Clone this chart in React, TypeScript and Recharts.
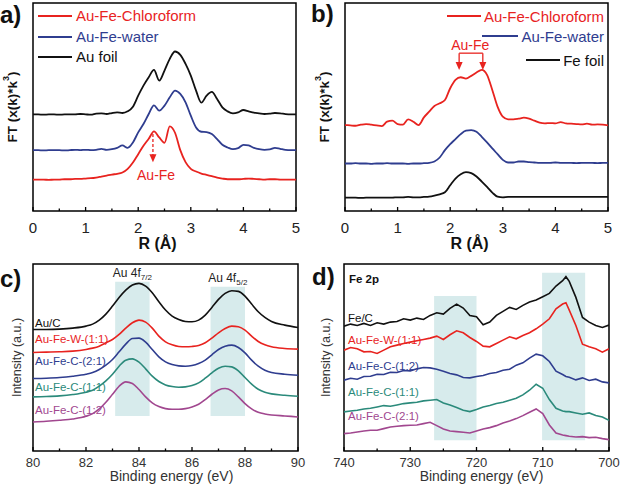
import type { ReactNode } from "react";
import { Legend, Line, LineChart, ReferenceArea, ReferenceDot, ReferenceLine, XAxis, YAxis } from "recharts";

const RED = "#e8231f";
const BLUE = "#2f3d8f";
const BLACK = "#111111";
const TEAL = "#2b8a7b";
const PURPLE = "#a1478f";
const BAND = "#d7ebec";
const FONT = "'Liberation Sans', Arial, Helvetica, sans-serif";

// ---- a) / b) EXAFS, R in Å ----
const rValues = [
	0, 0.1, 0.2, 0.3, 0.4, 0.5, 0.6, 0.7, 0.8, 0.9, 1, 1.1, 1.2, 1.3, 1.4, 1.5, 1.6, 1.7, 1.8, 1.9, 2, 2.1, 2.2, 2.3, 2.4,
	2.5, 2.6, 2.7, 2.8, 2.9, 3, 3.1, 3.2, 3.3, 3.4, 3.5, 3.6, 3.7, 3.8, 3.9, 4, 4.1, 4.2, 4.3, 4.4, 4.5, 4.6, 4.7, 4.8, 4.9, 5,
];
const rTicks = [0, 0.5, 1, 1.5, 2, 2.5, 3, 3.5, 4, 4.5, 5];

const auChloroform = [
	9.4, 9.4, 9.4, 9.3, 9.4, 9.4, 9.5, 9.5, 9.6, 9.6, 9.7, 9.8, 10.0, 10.3, 10.6, 10.9, 11.1, 11.5, 12.6, 14.5, 17.0, 19.5,
	21.6, 23.8, 22.0, 20.4, 25.3, 23.4, 18.2, 14.6, 12.6, 11.8, 11.2, 10.8, 10.4, 10.0, 9.7, 9.5, 9.5, 9.5, 9.6, 9.7, 9.6,
	9.5, 9.4, 9.5, 9.5, 9.4, 9.4, 9.4, 9.4,
];
const auWater = [
	18.2, 18.2, 18.1, 18.2, 18.2, 18.2, 18.1, 18.2, 18.3, 18.2, 18.3, 18.2, 18.3, 18.6, 18.3, 18.5, 18.9, 19.6, 18.9, 20.5,
	23.5, 26.0, 29.0, 31.6, 30.0, 31.5, 34.0, 36.0, 35.0, 32.5, 28.5, 25.0, 23.7, 23.6, 23.0, 21.5, 19.8, 19.0, 18.5, 18.8,
	19.8, 19.6, 18.9, 18.5, 18.3, 18.4, 18.9, 18.6, 18.3, 18.2, 18.2,
];
const auFoil = [
	28.9, 28.9, 28.8, 28.9, 28.9, 28.8, 28.9, 28.9, 28.9, 29.0, 28.9, 28.8, 29.1, 29.2, 29.0, 29.3, 29.5, 29.3, 29.8, 31.2,
	34.5, 37.5, 40.0, 42.2, 39.0, 42.0, 45.5, 47.7, 46.7, 44.0, 40.5, 36.0, 32.4, 34.5, 35.6, 33.5, 31.0, 29.8, 29.2, 29.5,
	30.2, 29.8, 29.4, 29.2, 29.0, 29.1, 29.3, 29.2, 29.0, 28.9, 28.9,
];

const feChloroform = [
	25.7, 25.6, 25.5, 25.8, 26.0, 25.8, 25.6, 25.4, 26.7, 27.0, 26.0, 25.8, 27.4, 26.7, 25.7, 28.0, 29.7, 31.4, 32.2, 33.2,
	36.7, 39.2, 40.0, 39.6, 40.4, 41.4, 42.2, 40.7, 36.2, 31.2, 28.2, 27.4, 27.4, 27.6, 27.9, 27.6, 27.0, 26.4, 26.2, 26.3,
	26.2, 26.6, 26.2, 26.1, 26.0, 25.9, 26.1, 25.8, 25.9, 25.8, 25.6,
];
const feWater = [
	14.2, 14.2, 14.3, 14.2, 14.2, 14.1, 14.2, 14.2, 14.3, 14.2, 14.2, 14.2, 14.1, 14.2, 14.2, 14.3, 14.4, 14.8, 16.0, 18.2,
	20.0, 21.5, 23.0, 24.0, 24.2, 23.7, 22.2, 20.5, 18.7, 17.0, 15.3, 14.5, 14.5, 14.8, 14.8, 14.6, 14.5, 14.4, 14.4, 14.4,
	14.5, 14.4, 14.4, 14.4, 14.3, 14.4, 14.4, 14.4, 14.3, 14.4, 14.4,
];
const feFoil = [
	4.0, 4.0, 4.0, 3.9, 4.0, 4.0, 4.0, 4.0, 4.0, 4.0, 4.1, 4.1, 4.2, 4.1, 4.1, 4.2, 4.3, 4.6, 5.0, 5.6, 7.7, 9.7, 11.0, 11.6,
	11.3, 10.3, 8.8, 7.2, 5.5, 4.3, 4.1, 4.2, 4.2, 4.2, 4.2, 4.2, 4.2, 4.2, 4.2, 4.2, 4.2, 4.2, 4.2, 4.2, 4.2, 4.2, 4.2, 4.2,
	4.2, 4.2, 4.2,
];

// ---- c) Au 4f XPS ----
const auEnergy = [
	80, 80.5, 81, 81.5, 82, 82.25, 82.5, 82.75, 83, 83.25, 83.5, 83.75, 84, 84.25, 84.5, 84.75, 85, 85.25, 85.5, 85.75, 86,
	86.25, 86.5, 86.75, 87, 87.25, 87.5, 87.75, 88, 88.25, 88.5, 88.75, 89, 89.5, 90,
];
const auTicks = [80, 81, 82, 83, 84, 85, 86, 87, 88, 89, 90];
const auC = [
	36.4, 36.4, 36.5, 36.8, 37.4, 38.0, 39.2, 41.0, 43.4, 46.0, 48.2, 49.7, 50.2, 49.4, 47.4, 44.7, 42.2, 40.4, 39.4, 38.8,
	38.7, 39.2, 40.7, 43.0, 45.4, 47.2, 48.0, 47.8, 46.4, 44.0, 41.7, 40.0, 38.8, 37.7, 37.0,
];
const auFeW11 = [
	29.5, 29.6, 29.7, 29.9, 30.4, 30.8, 31.4, 32.4, 33.4, 34.9, 36.8, 38.4, 39.2, 38.6, 36.8, 34.4, 32.7, 31.8, 31.3, 31.2,
	31.3, 31.6, 32.4, 33.8, 35.4, 36.7, 37.4, 37.2, 36.2, 34.4, 32.8, 31.8, 31.2, 30.7, 30.5,
];
const auFeC21 = [
	21.7, 21.8, 22.0, 22.4, 23.0, 23.5, 24.4, 25.7, 27.4, 29.7, 32.0, 33.7, 33.8, 32.6, 30.4, 28.2, 26.7, 25.9, 25.5, 25.4,
	25.6, 26.2, 27.2, 28.8, 30.4, 31.4, 31.7, 31.0, 29.4, 27.2, 25.4, 24.2, 23.5, 23.0, 22.7,
];
const auFeC11 = [
	16.2, 16.3, 16.5, 16.9, 17.6, 18.2, 19.4, 21.0, 23.0, 25.4, 27.2, 27.6, 26.6, 24.6, 22.4, 20.8, 19.8, 19.3, 19.1, 19.2,
	19.6, 20.4, 21.8, 23.4, 24.8, 25.4, 25.2, 24.0, 22.0, 20.0, 18.5, 17.6, 17.1, 16.7, 16.4,
];
const auFeC12 = [
	8.7, 8.9, 9.2, 9.6, 10.4, 11.2, 12.6, 14.6, 17.0, 19.4, 20.7, 20.2, 18.4, 16.2, 14.4, 13.3, 12.7, 12.5, 12.5, 12.7, 13.2,
	14.0, 15.4, 17.0, 18.3, 18.7, 18.0, 16.2, 14.2, 12.6, 11.6, 11.1, 10.8, 10.5, 10.2,
];

// ---- d) Fe 2p XPS ----
const feEnergy = [
	740, 739, 738, 737, 736, 735, 734, 733, 732, 731, 730, 729, 728, 727, 726, 725, 724, 723, 722, 721, 720, 719, 718, 717,
	716, 715, 714, 713, 712, 711, 710, 709, 708, 707, 706.5, 706, 705, 704, 703, 702, 701, 700,
];
const feTicks = [700, 705, 710, 715, 720, 725, 730, 735, 740];
const feC = [
	37.4, 38.0, 37.6, 38.2, 37.6, 38.4, 38.0, 38.6, 38.8, 39.6, 39.2, 39.8, 39.4, 40.6, 41.4, 41.0, 42.7, 44.0, 42.8, 40.6,
	40.2, 37.8, 38.6, 40.6, 41.8, 43.0, 42.4, 43.6, 44.6, 45.2, 46.2, 47.2, 49.4, 51.0, 52.2, 50.8, 46.0, 40.0, 38.6, 37.6,
	37.0, 37.7,
];
const feAuW11 = [
	30.2, 31.0, 30.6, 29.7, 29.8, 29.2, 30.2, 31.2, 31.7, 32.2, 32.6, 33.0, 33.4, 33.8, 34.4, 33.4, 34.8, 36.0, 35.4, 34.0,
	32.8, 31.4, 31.2, 32.2, 33.2, 34.2, 33.6, 34.6, 35.4, 36.6, 38.0, 39.6, 42.6, 44.0, 44.4, 42.2, 37.6, 32.0, 31.2, 30.6,
	29.6, 30.6,
];
const feAuC12 = [
	21.2, 21.8, 21.5, 22.3, 22.4, 23.0, 22.9, 23.6, 23.5, 24.1, 24.0, 24.6, 25.0, 24.9, 24.5, 23.9, 23.2, 22.8, 22.0, 21.9,
	22.3, 22.6, 23.2, 23.5, 24.2, 24.5, 25.7, 26.4, 27.8, 29.0, 28.5, 26.8, 23.9, 22.9, 22.3, 22.1, 21.3, 21.9, 21.1, 21.5,
	20.7, 20.4,
];
const feAuC11 = [
	11.7, 12.0, 12.2, 12.6, 12.8, 13.2, 13.6, 13.4, 13.8, 14.2, 14.4, 14.6, 15.0, 15.2, 15.4, 14.4, 13.8, 13.0, 12.2, 11.8,
	12.4, 13.2, 13.6, 14.2, 14.6, 15.2, 15.8, 16.8, 18.2, 20.0, 18.8, 15.4, 12.8, 12.0, 11.8, 11.8, 11.4, 11.0, 11.4, 10.6,
	10.2, 9.2,
];
const feAuC21 = [
	5.2, 5.4, 5.7, 6.0, 6.2, 6.2, 6.7, 7.2, 7.4, 7.6, 7.7, 7.8, 8.2, 8.6, 7.6, 6.6, 6.0, 5.8, 5.6, 5.4, 6.0, 6.6, 7.0, 7.6,
	8.4, 9.0, 9.7, 10.6, 11.6, 12.6, 11.2, 7.8, 5.4, 4.8, 4.6, 4.4, 4.2, 4.3, 4.0, 4.1, 3.7, 3.4,
];

const auRows = rValues.map((r, i) => ({ r, chloroform: auChloroform[i], water: auWater[i], foil: auFoil[i] }));
const feRows = rValues.map((r, i) => ({ r, chloroform: feChloroform[i], water: feWater[i], foil: feFoil[i] }));
const au4fRows = auEnergy.map((e, i) => ({ e, s0: auC[i], s1: auFeW11[i], s2: auFeC21[i], s3: auFeC11[i], s4: auFeC12[i] }));
const fe2pRows = feEnergy.map((e, i) => ({ e, s0: feC[i], s1: feAuW11[i], s2: feAuC12[i], s3: feAuC11[i], s4: feAuC21[i] }));

const EXAFS_MAX = 62.2;
const XPS_MAX = 56;

function axisTick(isMajor: (v: number) => boolean, fontSize: number, labelDy: number, color: string) {
	return (props: any) => {
		const { x, y, payload } = props;
		const major = isMajor(payload.value);
		return (
			<g>
				<line x1={x} x2={x} y1={y} y2={y - (major ? 4 : 2.5)} stroke="#000" strokeWidth={1.3} />
				{major && (
					<text x={x} y={y + labelDy} textAnchor="middle" fontSize={fontSize} fill={color}>
						{payload.value}
					</text>
				)}
			</g>
		);
	};
}

function yTitle(content: ReactNode, dx: number, style: Record<string, any>) {
	return (props: any) => {
		const vb = props.viewBox ?? {};
		const cx = (vb.x ?? 0) + dx;
		const cy = (vb.y ?? 0) + (vb.height ?? 0) / 2;
		return (
			<text x={cx} y={cy} transform={`rotate(-90 ${cx} ${cy})`} textAnchor="middle" dominantBaseline="central" {...style}>
				{content}
			</text>
		);
	};
}

function xTitle(content: ReactNode, dx: number, dy: number, style: Record<string, any>) {
	return (props: any) => {
		const vb = props.viewBox ?? {};
		return (
			<text x={(vb.x ?? 0) + (vb.width ?? 0) / 2 + dx} y={(vb.y ?? 0) + dy} textAnchor="middle" {...style}>
				{content}
			</text>
		);
	};
}

function bandTitle(sub: string) {
	return (props: any) => {
		const vb = props.viewBox ?? {};
		return (
			<text x={(vb.x ?? 0) + (vb.width ?? 0) / 2} y={(vb.y ?? 0) - 5} textAnchor="middle" fontSize={12} fill="#222">
				Au 4f
				<tspan fontSize={8} dy={3}>
					{sub}
				</tspan>
			</text>
		);
	};
}

const arrowDown = (p: any) => (
	<path d={`M${p.cx - 3.5},${p.cy - 8}L${p.cx + 3.5},${p.cy - 8}L${p.cx},${p.cy}Z`} fill={RED} />
);
const redText = (label: string) => (p: any) => (
	<text x={p.cx} y={p.cy} textAnchor="middle" dominantBaseline="central" fontSize={14} fill={RED}>
		{label}
	</text>
);

const ftLabel = (
	<>
		FT (x(k)*k
		<tspan fontSize={9} dy={-6}>
			3
		</tspan>
		<tspan dy={6}>)</tspan>
	</>
);

const exafsSeriesA = [
	{ key: "chloroform", name: "Au-Fe-Chloroform", color: RED },
	{ key: "water", name: "Au-Fe-water", color: BLUE },
	{ key: "foil", name: "Au foil", color: BLACK },
];
const exafsSeriesB = [
	{ key: "chloroform", name: "Au-Fe-Chloroform", color: RED, top: 6, line: 34 },
	{ key: "water", name: "Au-Fe-water", color: BLUE, top: 26, line: 36 },
	{ key: "foil", name: "Fe foil", color: BLACK, top: 50, line: 34 },
];
const au4fSeries = [
	{ key: "s0", name: "Au/C", color: BLACK, y: 82.7 },
	{ key: "s1", name: "Au-Fe-W-(1:1)", color: RED, y: 99.3 },
	{ key: "s2", name: "Au-Fe-C-(2:1)", color: BLUE, y: 121 },
	{ key: "s3", name: "Au-Fe-C-(1:1)", color: TEAL, y: 146.5 },
	{ key: "s4", name: "Au-Fe-C-(1:2)", color: PURPLE, y: 170 },
];
const fe2pSeries = [
	{ key: "s0", name: "Fe/C", color: BLACK, y: 78 },
	{ key: "s1", name: "Au-Fe-W-(1:1)", color: RED, y: 100 },
	{ key: "s2", name: "Au-Fe-C-(1:2)", color: BLUE, y: 125.5 },
	{ key: "s3", name: "Au-Fe-C-(1:1)", color: TEAL, y: 151.5 },
	{ key: "s4", name: "Au-Fe-C-(2:1)", color: PURPLE, y: 176 },
];

const rTick = axisTick((v) => Number.isInteger(v), 15, 21.5, "#222");
const auTick = axisTick((v) => v % 2 === 0, 13, 15.5, "#333");
const feTick = axisTick((v) => v % 10 === 0, 13, 15.5, "#333");

const legendBox = { left: 0, top: 0, width: 310, height: 1, pointerEvents: "none" as const };

function PanelA() {
	return (
		<LineChart width={310} height={260} data={auRows} margin={{ top: 3, right: 14, bottom: 0, left: 0 }}>
			<XAxis dataKey="r" type="number" domain={[0, 5]} allowDataOverflow ticks={rTicks} interval={0} tickSize={0} tickMargin={0}
				tickLine={false} axisLine={false} height={49} tick={rTick}
				label={xTitle("R (Å)", -7, 37.5, { fontSize: 16, fontWeight: "bold", fill: "#111" })} />
			<YAxis type="number" domain={[0, EXAFS_MAX]} allowDataOverflow width={33} tick={false} tickLine={false} axisLine={false}
				label={yTitle(ftLabel, 12, { fontSize: 13.5, fontWeight: "bold", fill: "#111" })} />
			{exafsSeriesA.map((s) => (
				<Line key={s.key} dataKey={s.key} stroke={s.color} strokeWidth={1.8} dot={false} type="monotone" isAnimationActive={false} />
			))}
			<ReferenceLine segment={[{ x: 2.28, y: 23.0 }, { x: 2.28, y: 16.5 }]} stroke={RED} strokeWidth={1.3} strokeDasharray="3 2" />
			<ReferenceDot x={2.28} y={14.6} r={0} shape={arrowDown} />
			<ReferenceDot x={2.34} y={10.7} r={0} shape={redText("Au-Fe")} />
			<ReferenceArea x1={0} x2={5} y1={0} y2={EXAFS_MAX} fill="none" stroke="#000" strokeWidth={1.5} />
			<Legend layout="vertical" align="center" verticalAlign="middle" wrapperStyle={legendBox}
				content={() => (
					<div style={{ position: "absolute", left: 38, top: 6, fontSize: 15, lineHeight: "20.5px" }}>
						{exafsSeriesA.map((s) => (
							<div key={s.key} style={{ display: "flex", alignItems: "center", whiteSpace: "nowrap" }}>
								<span style={{ display: "inline-block", width: 34, borderTop: `2px solid ${s.color}`, marginRight: 4 }} />
								<span style={{ color: s.color }}>{s.name}</span>
							</div>
						))}
					</div>
				)} />
		</LineChart>
	);
}

function PanelB() {
	return (
		<LineChart width={310} height={260} data={feRows} margin={{ top: 3, right: 12, bottom: 0, left: 0 }}>
			<XAxis dataKey="r" type="number" domain={[0, 5]} allowDataOverflow ticks={rTicks} interval={0} tickSize={0} tickMargin={0}
				tickLine={false} axisLine={false} height={49} tick={rTick}
				label={xTitle("R (Å)", -7, 37.5, { fontSize: 16, fontWeight: "bold", fill: "#111" })} />
			<YAxis type="number" domain={[0, EXAFS_MAX]} allowDataOverflow width={35} tick={false} tickLine={false} axisLine={false}
				label={yTitle(ftLabel, 14, { fontSize: 13.5, fontWeight: "bold", fill: "#111" })} />
			{exafsSeriesB.map((s) => (
				<Line key={s.key} dataKey={s.key} stroke={s.color} strokeWidth={1.8} dot={false} type="monotone" isAnimationActive={false} />
			))}
			<ReferenceLine segment={[{ x: 2.17, y: 47.2 }, { x: 2.62, y: 47.2 }]} stroke={RED} strokeWidth={1.3} />
			<ReferenceLine segment={[{ x: 2.17, y: 47.2 }, { x: 2.17, y: 43.6 }]} stroke={RED} strokeWidth={1.3} />
			<ReferenceLine segment={[{ x: 2.62, y: 47.2 }, { x: 2.62, y: 43.6 }]} stroke={RED} strokeWidth={1.3} />
			<ReferenceDot x={2.17} y={42.2} r={0} shape={arrowDown} />
			<ReferenceDot x={2.62} y={42.2} r={0} shape={arrowDown} />
			<ReferenceDot x={2.38} y={49.6} r={0} shape={redText("Au-Fe")} />
			<ReferenceArea x1={0} x2={5} y1={0} y2={EXAFS_MAX} fill="none" stroke="#000" strokeWidth={1.5} />
			<Legend layout="vertical" align="center" verticalAlign="middle" wrapperStyle={legendBox}
				content={() => (
					<div style={{ position: "absolute", left: 0, top: 0, width: 294, fontSize: 15 }}>
						{exafsSeriesB.map((s) => (
							<div key={s.key} style={{ position: "absolute", top: s.top, right: 0, height: 20, display: "flex",
								alignItems: "center", whiteSpace: "nowrap" }}>
								<span style={{ display: "inline-block", width: s.line, borderTop: `2px solid ${s.color}`, marginRight: 3 }} />
								<span style={{ color: s.color }}>{s.name}</span>
							</div>
						))}
					</div>
				)} />
		</LineChart>
	);
}

function PanelC() {
	return (
		<LineChart width={310} height={246} data={au4fRows} margin={{ top: 24, right: 12, bottom: 0, left: 0 }}>
			<XAxis dataKey="e" type="number" domain={[80, 90]} allowDataOverflow ticks={auTicks} interval={0} tickSize={0} tickMargin={0}
				tickLine={false} axisLine={false} height={35} tick={auTick}
				label={xTitle("Binding energy (eV)", 6, 30, { fontSize: 14, fill: "#333" })} />
			<YAxis type="number" domain={[0, XPS_MAX]} allowDataOverflow width={33} tick={false} tickLine={false} axisLine={false}
				label={yTitle("Intensity (a.u.)", 17, { fontSize: 12.5, fill: "#333" })} />
			<ReferenceArea x1={83.1} x2={84.4} y1={10.5} y2={50.7} fill={BAND} fillOpacity={1} stroke="none" label={bandTitle("7/2")} />
			<ReferenceArea x1={86.7} x2={88.0} y1={10.5} y2={49.2} fill={BAND} fillOpacity={1} stroke="none" label={bandTitle("5/2")} />
			{au4fSeries.map((s) => (
				<Line key={s.key} dataKey={s.key} stroke={s.color} strokeWidth={1.6} dot={false} type="monotone" isAnimationActive={false} />
			))}
			<ReferenceArea x1={80} x2={90} y1={0} y2={XPS_MAX} fill="none" stroke="#000" strokeWidth={1.5} />
			<Legend layout="vertical" align="center" verticalAlign="middle" wrapperStyle={legendBox}
				content={() => (
					<div style={{ position: "absolute", left: 0, top: 0, fontSize: 11.5 }}>
						{au4fSeries.map((s) => (
							<div key={s.key} style={{ position: "absolute", left: 35, top: s.y - 7, lineHeight: "14px", color: s.color, whiteSpace: "nowrap" }}>
								{s.name}
							</div>
						))}
					</div>
				)} />
		</LineChart>
	);
}

function PanelD() {
	return (
		<LineChart width={310} height={246} data={fe2pRows} margin={{ top: 24, right: 11, bottom: 0, left: 0 }}>
			<XAxis dataKey="e" type="number" domain={[700, 740]} reversed allowDataOverflow ticks={feTicks} interval={0} tickSize={0}
				tickMargin={0} tickLine={false} axisLine={false} height={35} tick={feTick}
				label={xTitle("Binding energy (eV)", 5, 30, { fontSize: 14, fill: "#333" })} />
			<YAxis type="number" domain={[0, XPS_MAX]} allowDataOverflow width={34} tick={false} tickLine={false} axisLine={false}
				label={yTitle("Intensity (a.u.)", 16, { fontSize: 12.5, fill: "#333" })} />
			<ReferenceArea x1={720.0} x2={726.4} y1={3.2} y2={46.4} fill={BAND} fillOpacity={1} stroke="none" />
			<ReferenceArea x1={703.6} x2={710.1} y1={3.2} y2={53.4} fill={BAND} fillOpacity={1} stroke="none" />
			{fe2pSeries.map((s) => (
				<Line key={s.key} dataKey={s.key} stroke={s.color} strokeWidth={1.6} dot={false} type="linear" isAnimationActive={false} />
			))}
			<ReferenceArea x1={700} x2={740} y1={0} y2={XPS_MAX} fill="none" stroke="#000" strokeWidth={1.5} />
			<Legend layout="vertical" align="center" verticalAlign="middle" wrapperStyle={legendBox}
				content={() => (
					<div style={{ position: "absolute", left: 0, top: 0, fontSize: 11.5 }}>
						<div style={{ position: "absolute", left: 39, top: 32, lineHeight: "14px", fontWeight: "bold", color: "#111", whiteSpace: "nowrap" }}>
							Fe 2p
						</div>
						{fe2pSeries.map((s) => (
							<div key={s.key} style={{ position: "absolute", left: 38, top: s.y - 7, lineHeight: "14px", color: s.color, whiteSpace: "nowrap" }}>
								{s.name}
							</div>
						))}
					</div>
				)} />
		</LineChart>
	);
}

const letter = (text: string, left: number, top: number) => (
	<div style={{ position: "absolute", left, top, fontSize: 24, lineHeight: "28px", fontWeight: "bold", color: "#111" }}>{text}</div>
);

export default function App() {
	return (
		<div style={{ position: "absolute", left: 0, top: 0, width: 620, height: 486, background: "#fff", fontFamily: FONT, overflow: "hidden" }}>
			<div style={{ position: "absolute", left: 0, top: 0 }}>
				<PanelA />
			</div>
			<div style={{ position: "absolute", left: 310, top: 0 }}>
				<PanelB />
			</div>
			<div style={{ position: "absolute", left: 0, top: 240 }}>
				<PanelC />
			</div>
			<div style={{ position: "absolute", left: 310, top: 240 }}>
				<PanelD />
			</div>
			{letter("a)", 0, 1)}
			{letter("b)", 311, 0)}
			{letter("c)", 0, 265)}
			{letter("d)", 312, 263)}
		</div>
	);
}
